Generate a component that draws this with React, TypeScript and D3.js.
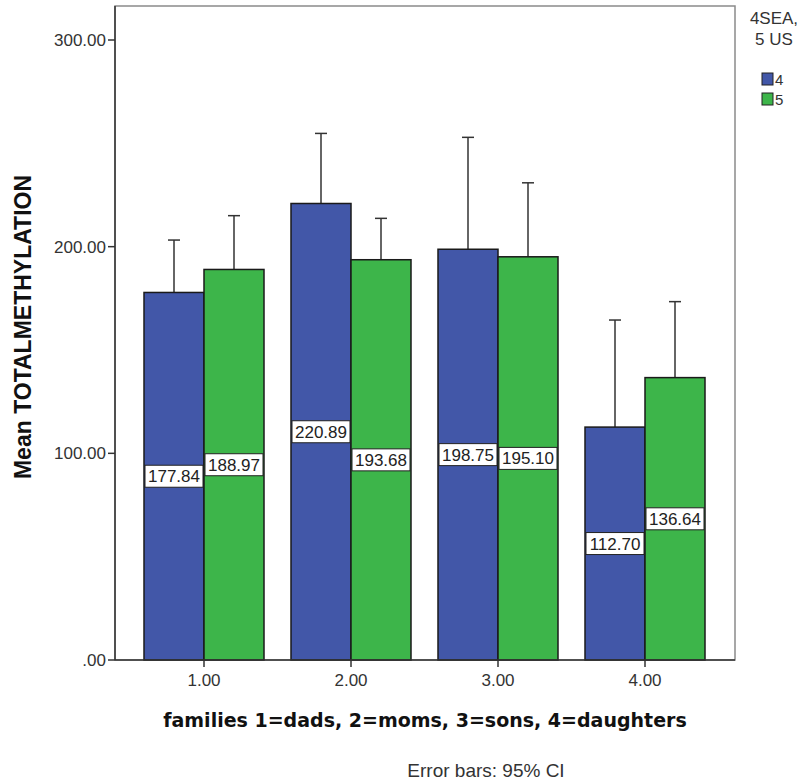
import React from "react";
import * as d3 from "d3";

const categories = ["1.00", "2.00", "3.00", "4.00"];
const groups = ["4", "5"];
const meansG4 = [177.84, 220.89, 198.75, 112.7];
const meansG5 = [188.97, 193.68, 195.1, 136.64];
const upperG4 = [203.2, 254.8, 252.9, 164.5];
const upperG5 = [215.0, 213.7, 230.9, 173.4];
const yTicks = [0, 100, 200, 300];
const colors = ["#4257a8", "#3db54a"];

export default function App() {
  const W = 807, H = 780;
  const left = 115, right = 735, top = 6, bottom = 660;
  const y = d3.scaleLinear().domain([0, 300]).range([660, 40]);
  const x = d3.scalePoint<string>().domain(categories).range([204, 645]);
  const sub = d3.scaleBand<string>().domain(groups).range([-60, 60]);
  const bw = sub.bandwidth();
  const fmt = (v: number) => (v === 0 ? ".00" : d3.format(".2f")(v));
  const series = [
    { key: "4", means: meansG4, upper: upperG4 },
    { key: "5", means: meansG5, upper: upperG5 },
  ];
  const font = "'Liberation Sans', Arial, sans-serif";

  return (
    <svg width={W} height={H} style={{ position: "absolute", left: 0, top: 0, background: "#fff" }}>
      <rect x={0} y={0} width={W} height={H} fill="#fff" />
      <rect x={left} y={top} width={right - left} height={bottom - top} fill="none" stroke="#8a8a8a" strokeWidth={1.5} />
      {series.map((s, gi) =>
        categories.map((c, i) => {
          const cx = (x(c) as number) + (sub(s.key) as number) + bw / 2;
          return (
            <g key={`e${gi}-${i}`} stroke="#333" strokeWidth={1.5}>
              <line x1={cx} x2={cx} y1={y(s.upper[i])} y2={y(s.means[i])} />
              <line x1={cx - 6} x2={cx + 6} y1={y(s.upper[i])} y2={y(s.upper[i])} />
            </g>
          );
        })
      )}
      {series.map((s, gi) =>
        categories.map((c, i) => {
          const bx = (x(c) as number) + (sub(s.key) as number);
          return (
            <rect key={`b${gi}-${i}`} x={bx} y={y(s.means[i])} width={bw} height={y(0) - y(s.means[i])}
              fill={colors[gi]} stroke="#1a1a1a" strokeWidth={1.5} />
          );
        })
      )}
      {series.map((s, gi) =>
        categories.map((c, i) => {
          const cx = (x(c) as number) + (sub(s.key) as number) + bw / 2;
          const cy = y(s.means[i] / 2);
          return (
            <g key={`l${gi}-${i}`}>
              <rect x={cx - 29} y={cy - 11} width={58} height={22} fill="#fff" stroke="#222" strokeWidth={1} />
              <text x={cx} y={cy + 6} textAnchor="middle" fontFamily={font} fontSize={17} fill="#222">
                {d3.format(".2f")(s.means[i])}
              </text>
            </g>
          );
        })
      )}
      <line x1={left} x2={left} y1={top} y2={bottom} stroke="#333" strokeWidth={1.5} />
      <line x1={left} x2={right} y1={bottom} y2={bottom} stroke="#333" strokeWidth={1.5} />
      {yTicks.map((t) => (
        <g key={`yt${t}`}>
          <line x1={left - 7} x2={left} y1={y(t)} y2={y(t)} stroke="#333" strokeWidth={1.5} />
          <text x={left - 9} y={y(t) + 6} textAnchor="end" fontFamily={font} fontSize={17} fill="#333">
            {fmt(t)}
          </text>
        </g>
      ))}
      {categories.map((c) => (
        <g key={`xt${c}`}>
          <line x1={x(c)} x2={x(c)} y1={bottom} y2={bottom + 7} stroke="#333" strokeWidth={1.5} />
          <text x={x(c)} y={bottom + 26} textAnchor="middle" fontFamily={font} fontSize={17} fill="#333">
            {c}
          </text>
        </g>
      ))}
      <text transform={`translate(31,327) rotate(-90)`} textAnchor="middle"
        fontFamily={font} fontWeight="bold" fontSize={23} fill="#111">
        Mean TOTALMETHYLATION
      </text>
      <text x={425} y={727} textAnchor="middle" fontFamily="'DejaVu Sans', Verdana, sans-serif" fontWeight="bold" fontSize={19} fill="#111">
        families 1=dads, 2=moms, 3=sons, 4=daughters
      </text>
      <text x={486} y={777} textAnchor="middle" fontFamily={font} fontSize={19} fill="#333">
        Error bars: 95% CI
      </text>
      <text x={774} y={24} textAnchor="middle" fontFamily={font} fontSize={17} fill="#333">4SEA,</text>
      <text x={774} y={45} textAnchor="middle" fontFamily={font} fontSize={17} fill="#333">5 US</text>
      {groups.map((g, gi) => (
        <g key={`lg${g}`}>
          <rect x={762} y={73 + gi * 20} width={11} height={12} fill={colors[gi]} stroke="#222" strokeWidth={1} />
          <text x={775} y={85 + gi * 20} fontFamily={font} fontSize={15} fill="#333">{g}</text>
        </g>
      ))}
    </svg>
  );
}
